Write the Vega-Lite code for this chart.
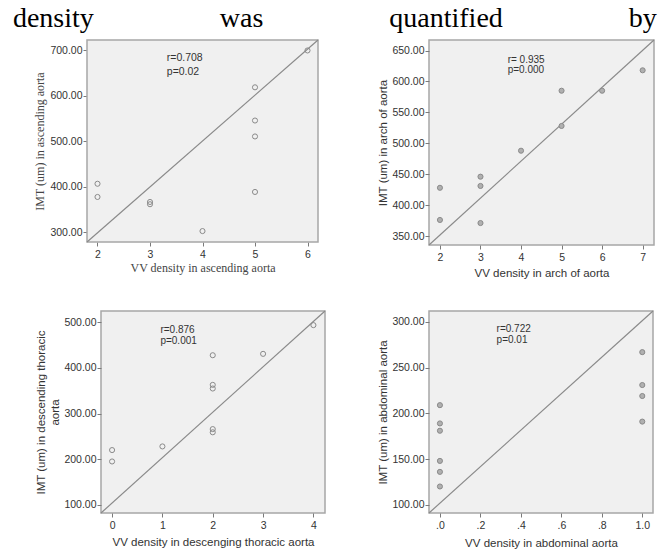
{
  "$schema": "https://vega.github.io/schema/vega-lite/v6.json",
  "padding": {"left": 12, "top": 5, "right": 5, "bottom": 0},
  "background": "white",
  "title": {
    "text": "density\u00a0\u00a0\u00a0\u00a0\u00a0\u00a0\u00a0\u00a0\u00a0\u00a0\u00a0\u00a0\u00a0\u00a0\u00a0\u00a0\u00a0\u00a0was\u00a0\u00a0\u00a0\u00a0\u00a0\u00a0\u00a0\u00a0\u00a0\u00a0\u00a0\u00a0\u00a0\u00a0\u00a0\u00a0\u00a0\u00a0quantified\u00a0\u00a0\u00a0\u00a0\u00a0\u00a0\u00a0\u00a0\u00a0\u00a0\u00a0\u00a0\u00a0\u00a0\u00a0\u00a0\u00a0\u00a0by",
    "font": "Liberation Serif",
    "fontSize": 28,
    "fontWeight": "normal",
    "color": "#000000",
    "anchor": "start",
    "dx": -21,
    "offset": 3.5
  },
  "columns": 2,
  "bounds": "full",
  "spacing": {"row": 27, "column": 45},
  "concat": [
        {
          "width": 217,
          "height": 202,
          "view": {"fill": null, "stroke": null},
          "encoding": {
            "x": {"field": "x", "type": "quantitative", "scale": {"domain": [1.8, 6.2], "range": [-14, 217], "nice": false, "zero": false},
                  "axis": {"title": "VV density in ascending aorta", "titleFont": "Liberation Serif", "titleFontSize": 12, "titleColor": "#444", "values": [2, 3, 4, 5, 6], "format": "d"}},
            "y": {"field": "y", "type": "quantitative", "scale": {"domain": [279, 723], "nice": false, "zero": false},
                  "axis": {"title": "IMT (um) in ascending aorta", "offset": 14, "titleFont": "Liberation Serif", "titleFontSize": 12, "titleColor": "#444", "values": [300, 400, 500, 600, 700], "format": ".2f"}}
          },
          "layer": [
            {"data": {"values": [{"x": 1.8, "x2": 6.2, "y": 279, "y2": 723}]},
             "mark": {"type": "rect", "fill": "#f0f0f0", "stroke": "#a6a6a6", "strokeWidth": 1.5},
             "encoding": {"x2": {"field": "x2"}, "y2": {"field": "y2"}}},
            {"data": {"values": [{"x": 1.8, "y": 279}, {"x": 6.2, "y": 723}]}, "mark": {"type": "line", "color": "#8a8a8a", "strokeWidth": 1.2}},
            {"data": {"values": [{"x": 2, "y": 407}, {"x": 2, "y": 378}, {"x": 3, "y": 367}, {"x": 3, "y": 362}, {"x": 4, "y": 303}, {"x": 5, "y": 619}, {"x": 5, "y": 546}, {"x": 5, "y": 511}, {"x": 5, "y": 389}, {"x": 6, "y": 700}]},
             "mark": {"type": "point", "filled": false, "color": "#8a8a8a", "strokeWidth": 1, "size": 26, "opacity": 1}},
            {"data": {"values": [{"x": 3.32, "y": 684, "t": "r=0.708"}, {"x": 3.32, "y": 652, "t": "p=0.02"}]},
             "mark": {"type": "text", "align": "left", "baseline": "middle", "font": "Liberation Sans", "fontSize": 10.5, "color": "#333"},
             "encoding": {"text": {"field": "t"}}}
          ]
        },
        {
          "width": 225,
          "height": 205,
          "encoding": {
            "x": {"field": "x", "type": "quantitative", "scale": {"domain": [1.73, 7.28], "nice": false, "zero": false},
                  "axis": {"title": "VV density in arch of aorta", "titlePadding": 5, "values": [2, 3, 4, 5, 6, 7], "format": "d"}},
            "y": {"field": "y", "type": "quantitative", "scale": {"domain": [335.5, 667], "nice": false, "zero": false},
                  "axis": {"title": "IMT (um) in arch of aorta", "values": [350, 400, 450, 500, 550, 600, 650], "format": ".2f"}}
          },
          "layer": [
            {"data": {"values": [{"x": 1.73, "y": 335.5}, {"x": 7.28, "y": 667}]}, "mark": {"type": "line", "color": "#8a8a8a", "strokeWidth": 1.2}},
            {"data": {"values": [{"x": 2, "y": 428}, {"x": 2, "y": 376}, {"x": 3, "y": 446}, {"x": 3, "y": 431}, {"x": 3, "y": 371}, {"x": 4, "y": 488}, {"x": 5, "y": 585}, {"x": 5, "y": 528}, {"x": 6, "y": 585}, {"x": 7, "y": 618}]},
             "mark": {"type": "point", "filled": true, "fill": "#b0b0b0", "stroke": "#8a8a8a", "strokeWidth": 1, "size": 26, "opacity": 1}},
            {"data": {"values": [{"x": 3.67, "y": 635, "t": "r= 0.935"}, {"x": 3.67, "y": 618, "t": "p=0.000"}]},
             "mark": {"type": "text", "align": "left", "baseline": "middle", "font": "Liberation Sans", "fontSize": 10, "color": "#333"},
             "encoding": {"text": {"field": "t"}}}
          ]
        },
        {
          "width": 224,
          "height": 202,
          "encoding": {
            "x": {"field": "x", "type": "quantitative", "scale": {"domain": [-0.22, 4.23], "nice": false, "zero": false},
                  "axis": {"title": "VV density in descenging thoracic aorta", "titlePadding": 6, "values": [0, 1, 2, 3, 4], "format": "d"}},
            "y": {"field": "y", "type": "quantitative", "scale": {"domain": [82, 525], "nice": false, "zero": false},
                  "axis": {"title": ["IMT (um) in descending thoracic", "aorta"], "titleLineHeight": 14, "values": [100, 200, 300, 400, 500], "format": ".2f"}}
          },
          "layer": [
            {"data": {"values": [{"x": -0.22, "y": 82}, {"x": 4.23, "y": 525}]}, "mark": {"type": "line", "color": "#8a8a8a", "strokeWidth": 1.2}},
            {"data": {"values": [{"x": 0, "y": 220}, {"x": 0, "y": 195}, {"x": 1, "y": 228}, {"x": 2, "y": 428}, {"x": 2, "y": 363}, {"x": 2, "y": 355}, {"x": 2, "y": 266}, {"x": 2, "y": 259}, {"x": 3, "y": 431}, {"x": 4, "y": 494}]},
             "mark": {"type": "point", "filled": false, "color": "#8a8a8a", "strokeWidth": 1, "size": 26, "opacity": 1}},
            {"data": {"values": [{"x": 0.96, "y": 483, "t": "r=0.876"}, {"x": 0.96, "y": 459, "t": "p=0.001"}]},
             "mark": {"type": "text", "align": "left", "baseline": "middle", "font": "Liberation Sans", "fontSize": 10, "color": "#333"},
             "encoding": {"text": {"field": "t"}}}
          ]
        },
        {
          "width": 224,
          "height": 202,
          "encoding": {
            "x": {"field": "x", "type": "quantitative", "scale": {"domain": [-0.054, 1.053], "nice": false, "zero": false},
                  "axis": {"title": "VV density in abdominal aorta", "titlePadding": 7, "values": [0, 0.2, 0.4, 0.6, 0.8, 1], "labelExpr": "datum.value >= 1 ? '1.0' : replace(format(datum.value, '.1f'), '0.', '.')"}},
            "y": {"field": "y", "type": "quantitative", "scale": {"domain": [91, 312], "nice": false, "zero": false},
                  "axis": {"title": "IMT (um) in abdominal aorta", "values": [100, 150, 200, 250, 300], "format": ".2f"}}
          },
          "layer": [
            {"data": {"values": [{"x": -0.054, "y": 91}, {"x": 1.053, "y": 312}]}, "mark": {"type": "line", "color": "#8a8a8a", "strokeWidth": 1.2}},
            {"data": {"values": [{"x": 0, "y": 209}, {"x": 0, "y": 189}, {"x": 0, "y": 181}, {"x": 0, "y": 148}, {"x": 0, "y": 136}, {"x": 0, "y": 120}, {"x": 1, "y": 267}, {"x": 1, "y": 231}, {"x": 1, "y": 219}, {"x": 1, "y": 191}]},
             "mark": {"type": "point", "filled": true, "fill": "#b0b0b0", "stroke": "#8a8a8a", "strokeWidth": 1, "size": 26, "opacity": 1}},
            {"data": {"values": [{"x": 0.28, "y": 292.7, "t": "r=0.722"}, {"x": 0.28, "y": 280.6, "t": "p=0.01"}]},
             "mark": {"type": "text", "align": "left", "baseline": "middle", "font": "Liberation Sans", "fontSize": 10, "color": "#333"},
             "encoding": {"text": {"field": "t"}}}
          ]
        }
  ],
  "config": {
    "view": {"fill": "#f0f0f0", "stroke": "#a6a6a6", "strokeWidth": 1.5},
    "axis": {
      "domain": false, "grid": false, "ticks": true, "tickColor": "#7a7a7a", "tickSize": 4,
      "labelFont": "Liberation Sans", "labelFontSize": 10.5, "labelColor": "#333", "labelOverlap": false,
      "titleFont": "Liberation Sans", "titleFontSize": 11.5, "titleFontWeight": "normal", "titleColor": "#333"
    },
    "axisY": {"labelPadding": 1, "titlePadding": 3},
    "axisX": {"labelPadding": 3, "titlePadding": 3, "labelFlush": false}
  }
}
